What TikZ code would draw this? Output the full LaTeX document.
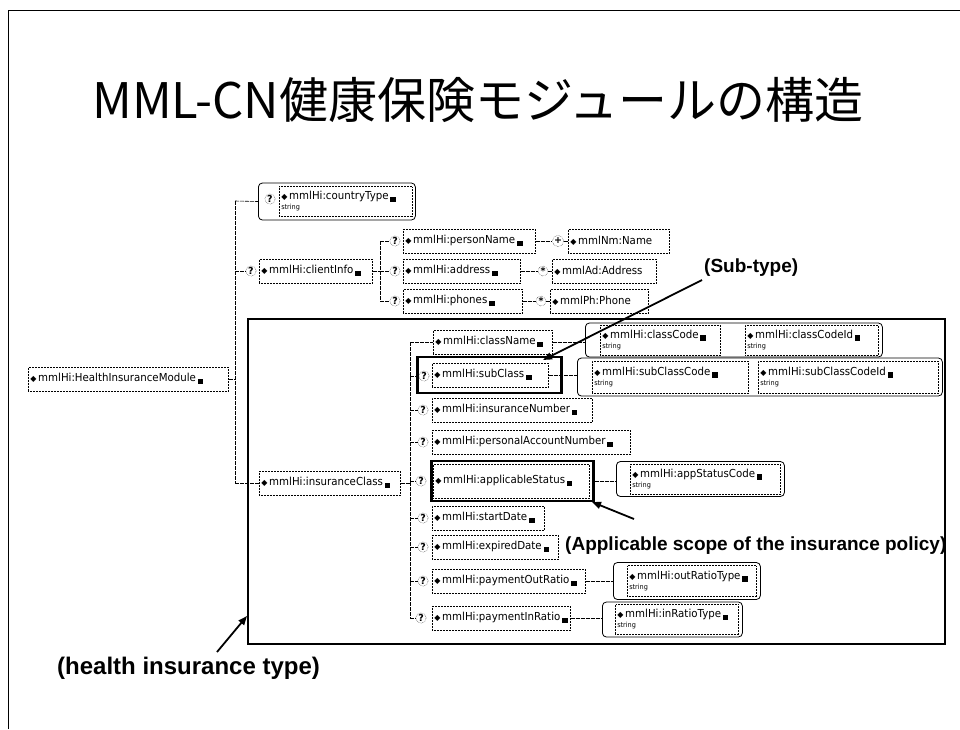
\documentclass[tikz,border=0pt]{standalone}
\usepackage{fontspec}
\setmainfont{DejaVu Sans}[FakeStretch=0.93]
\newfontfamily\symf{DejaVu Sans}
\newfontfamily\cjkf{Noto Sans CJK JP}
\newfontfamily\labf{Liberation Sans}
\usetikzlibrary{arrows.meta}
\newcommand{\ic}{\,\raisebox{-2.5pt}{\rule{5.5pt}{5.5pt}}}
\newcommand{\dm}{{\symf\fontsize{8}{8}\selectfont ◆}\,}
\newcommand{\strg}{{\fontsize{7}{7}\selectfont string}}
\tikzset{
  el/.style={draw, densely dotted, line width=0.5pt, anchor=west, minimum height=24pt, inner sep=2pt, font=\fontsize{11}{12}\selectfont, align=left},
  grp/.style={draw, line width=0.8pt, rounded corners=4pt, anchor=west, inner sep=0pt},
  hl/.style={draw, line width=2.6pt, anchor=west, inner sep=0pt},
  qm/.style={circle, draw, densely dotted, line width=0.4pt, inner sep=0.5pt, font=\symf\fontsize{9.5}{9.5}\selectfont\bfseries},
  con/.style={line width=0.6pt, dash pattern=on 4pt off 1pt},
  arr/.style={line width=1.8pt, -{Triangle[length=9pt,width=7pt]}},
  lab/.style={font=\labf\bfseries\fontsize{19}{22}\selectfont, anchor=west, inner sep=0pt}
}
\begin{document}
\begin{tikzpicture}[x=1pt,y=-1pt]
\useasboundingbox (0,0) rectangle (960,729);
% page frame
\draw[line width=1pt] (8,729) -- (8,10) -- (960,10);
% title
\node[font=\cjkf\fontsize{49}{52}\selectfont] (title) at (478,100) {MML-CN健康保険モジュールの構造};
% big rectangle
\node[draw, line width=2pt, minimum width=697, minimum height=325, anchor=north west, inner sep=0pt] (bigrect) at (247,318) {};
% root
\node[el, text width=196] (him) at (28,379) {\dm mmlHi:HealthInsuranceModule\ic};
\coordinate (tk1) at (235,201);
\coordinate (tk2) at (235,483);
\draw[con] (tk1) -- (tk2);
\draw[con] (him.east) -- (him.east -| tk1);
% countryType
\node[grp, minimum width=157, minimum height=37] (ctg) at (258,201.5) {};
\node[qm] (ctq) at (270,199) {?};
\node[el, text width=129, minimum height=30] (ct) at (279,201.5) {\dm mmlHi:countryType\ic\\[-2pt]\strg};
\draw[con] (tk1) -- (ctg.west);
% clientInfo
\node[qm] (ciq) at (251,271) {?};
\node[el, text width=109] (ci) at (259,271) {\dm mmlHi:clientInfo\ic};
\draw[con] (ciq.west -| tk1) -- (ciq.west);
\coordinate (cb1) at (380,241);
\coordinate (cb2) at (380,301);
\draw[con] (cb1) -- (cb2);
\draw[con] (ci.east) -- (ci.east -| cb1);
\node[qm] (pnq) at (395,241) {?};
\node[el, text width=128] (pn) at (403,241) {\dm mmlHi:personName\ic};
\draw[con] (cb1) -- (pnq.west);
\node[qm] (pnp) at (558,241) {+};
\node[el, text width=97] (nm) at (568,241) {\dm mmlNm:Name};
\draw[con] (pn.east) -- (pnp.west);
\draw[con] (pnp.east) -- (nm.west);
\node[qm] (adq) at (395,271) {?};
\node[el, text width=113] (ad) at (403,271) {\dm mmlHi:address\ic};
\draw[con] (adq.west -| cb1) -- (adq.west);
\node[qm] (ads) at (543,271) {*};
\node[el, text width=100] (ada) at (552,271) {\dm mmlAd:Address};
\draw[con] (ad.east) -- (ads.west);
\draw[con] (ads.east) -- (ada.west);
\node[qm] (phq) at (395,301) {?};
\node[el, text width=115] (ph) at (403,301) {\dm mmlHi:phones\ic};
\draw[con] (cb2) -- (phq.west);
\node[qm] (phs) at (541,301) {*};
\node[el, text width=94] (php) at (550,301) {\dm mmlPh:Phone};
\draw[con] (ph.east) -- (phs.west);
\draw[con] (phs.east) -- (php.west);
% insuranceClass
\node[el, text width=137] (icl) at (259,483) {\dm mmlHi:insuranceClass\ic};
\draw[con] (tk2) -- (icl.west);
\coordinate (iv1) at (410,342);
\coordinate (iv2) at (410,618);
\draw[con] (iv1) -- (iv2);
\draw[con] (icl.east) -- (icl.east -| iv1);
% className
\node[el, text width=115] (cn) at (433,342) {\dm mmlHi:className\ic};
\draw[con] (iv1) -- (cn.west);
\node[grp, minimum width=297, minimum height=34] (ccg) at (585,340) {};
\node[el, text width=116, minimum height=30] (cc) at (600,340) {\dm mmlHi:classCode\ic\\[-2pt]\strg};
\node[el, text width=129, minimum height=30] (cci) at (745,340) {\dm mmlHi:classCodeId\ic\\[-2pt]\strg};
\draw[con] (cn.east) -- (cn.east -| ccg.west);
% subClass
\node[hl, minimum width=144, minimum height=36] (schl) at (416,375) {};
\node[qm] (scq) at (424,376) {?};
\node[el, text width=112] (sc) at (432,375) {\dm mmlHi:subClass\ic};
\draw[con] (iv1 |- scq) -- (scq.west);
\node[grp, minimum width=365, minimum height=38] (scg) at (577,377) {};
\node[el, text width=152, minimum height=32] (scc) at (592,377) {\dm mmlHi:subClassCode\ic\\[-2pt]\strg};
\node[el, text width=176, minimum height=32] (scci) at (758,377) {\dm mmlHi:subClassCodeId\ic\\[-2pt]\strg};
\draw[con] (sc.east) -- (sc.east -| scg.west);
% insuranceNumber
\node[qm] (inq) at (423,410) {?};
\node[el, text width=156] (inn) at (432,410) {\dm mmlHi:insuranceNumber\ic};
\draw[con] (iv1 |- inq) -- (inq.west);
% personalAccountNumber
\node[qm] (paq) at (423,442) {?};
\node[el, text width=194] (pa) at (432,442) {\dm mmlHi:personalAccountNumber\ic};
\draw[con] (iv1 |- paq) -- (paq.west);
% applicableStatus
\node[hl, minimum width=162, minimum height=40] (ashl) at (430,481) {};
\node[qm] (asq) at (421,481) {?};
\node[el, text width=152, minimum height=34] (as) at (433,481) {\dm mmlHi:applicableStatus\ic};
\draw[con] (iv1 |- asq) -- (asq.west);
\node[grp, minimum width=168, minimum height=35] (asg) at (616,479) {};
\node[el, text width=146, minimum height=30] (asc) at (630,479) {\dm mmlHi:appStatusCode\ic\\[-2pt]\strg};
\draw[con] (ashl.east) -- (ashl.east -| asg.west);
% startDate
\node[qm] (sdq) at (423,518) {?};
\node[el, text width=108] (sd) at (432,518) {\dm mmlHi:startDate\ic};
\draw[con] (iv1 |- sdq) -- (sdq.west);
% expiredDate
\node[qm] (edq) at (423,547) {?};
\node[el, text width=122] (ed) at (432,547) {\dm mmlHi:expiredDate\ic};
\draw[con] (iv1 |- edq) -- (edq.west);
% paymentOutRatio
\node[qm] (poq) at (423,581) {?};
\node[el, text width=149] (po) at (432,581) {\dm mmlHi:paymentOutRatio\ic};
\draw[con] (iv1 |- poq) -- (poq.west);
\node[grp, minimum width=147, minimum height=37] (pog) at (613,581) {};
\node[el, text width=125, minimum height=31] (por) at (627,581) {\dm mmlHi:outRatioType\ic\\[-2pt]\strg};
\draw[con] (po.east) -- (pog.west);
% paymentInRatio
\node[qm] (piq) at (421,618) {?};
\node[el, text width=134] (pi) at (432,618) {\dm mmlHi:paymentInRatio\ic};
\draw[con] (iv2) -- (piq.west);
\node[grp, minimum width=140, minimum height=35] (pig) at (602,619.5) {};
\node[el, text width=119, minimum height=30] (pir) at (615,619.5) {\dm mmlHi:inRatioType\ic\\[-2pt]\strg};
\draw[con] (pi.east) -- (pi.east -| pig.west);
% labels and arrows
\node[lab] (sublab) at (704,268) {(Sub-type)};
\node[lab] (applab) at (565,546) {(Applicable scope of the insurance policy)};
\node[lab, font=\labf\bfseries\fontsize{24}{28}\selectfont] (hlab) at (57,668) {(health insurance type)};
\coordinate (subst) at (702,280);
\coordinate (subtip) at (543,360);
\coordinate (appst) at (634,519);
\coordinate (apptip) at (592,502);
\coordinate (hst) at (217,652);
\coordinate (htip) at (247,616);
\draw[arr] (subst) -- (subtip);
\draw[arr] (appst) -- (apptip);
\draw[arr] (hst) -- (htip);
\end{tikzpicture}
\end{document}
